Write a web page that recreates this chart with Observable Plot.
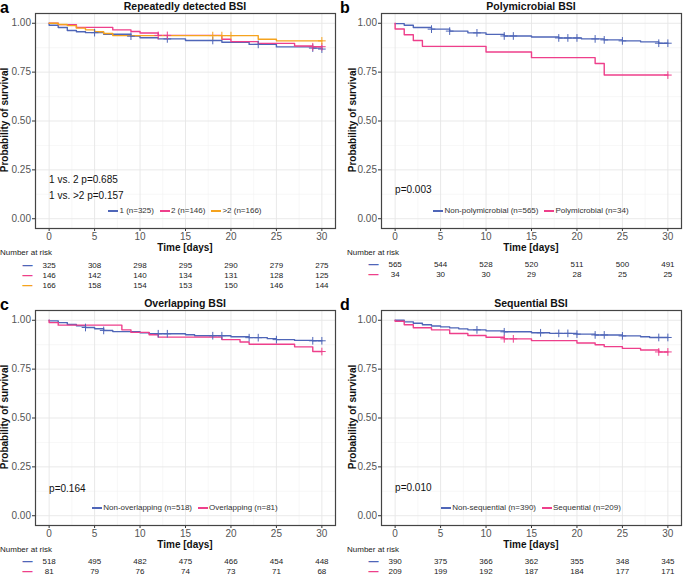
<!DOCTYPE html>
<html><head><meta charset="utf-8">
<script src="https://cdn.jsdelivr.net/npm/d3@7"></script>
<script src="https://cdn.jsdelivr.net/npm/@observablehq/plot@0.6"></script>
<style>
body{margin:0;background:#fff;font-family:"Liberation Sans",Arial,sans-serif;}
#root{position:relative;width:683px;height:576px;overflow:hidden;background:#fff;}
.abs{position:absolute;white-space:nowrap;line-height:1;}
.letter{font-weight:bold;font-size:16px;}
.title{font-weight:bold;font-size:10.5px;text-align:center;width:300px;color:#111;}
.ylab{font-weight:bold;font-size:10px;text-align:center;width:200px;transform:rotate(-90deg);color:#111;}
.xlab{font-weight:bold;font-size:10px;text-align:center;width:300px;color:#111;}
.risk{font-size:8px;color:#222;}
.legend{display:flex;justify-content:center;align-items:center;width:300px;font-size:8px;color:#333;}
.legend .sw{display:inline-block;width:10px;height:1.6px;margin-right:1px;}
.legend .it{display:flex;align-items:center;margin:0 3px;}
svg{position:absolute;}
</style></head>
<body><div id="root"></div>
<script>
// ---------- shared ----------
const ticksX = [0, 5, 10, 15, 20, 25, 30];
const ticksY = [0, 0.25, 0.5, 0.75, 1];
const minorX = [2.5, 7.5, 12.5, 17.5, 22.5, 27.5];
const minorY = [0.125, 0.375, 0.625, 0.875];
const riskTimes = [0, 5, 10, 15, 20, 25, 30];
const blue = "#4F66B8", pink = "#EE3F8B", orange = "#F5A31E";

// ---------- panel a ----------
const aNames = ["1 (n=325)", "2 (n=146)", ">2 (n=166)"];
const aT1 = [0, 0, 1, 2, 3, 4, 6, 9, 10, 12, 15, 19, 22, 25, 29, 30];
const aS1 = [1, 0.99, 0.978, 0.963, 0.957, 0.952, 0.944, 0.934, 0.926, 0.92, 0.912, 0.903, 0.892, 0.879, 0.873, 0.868];
const aC1 = [5, 9, 13, 18, 23, 29, 30];
const aT2 = [0, 1, 3, 7, 9, 10, 12, 19, 20, 23, 27, 29, 30];
const aS2 = [1, 0.993, 0.979, 0.966, 0.958, 0.95, 0.938, 0.918, 0.906, 0.897, 0.884, 0.88, 0.88];
const aC2 = [12, 13, 29, 30];
const aT3 = [0, 1, 2, 3, 4, 5, 6, 7, 23, 25, 30];
const aS3 = [1, 0.994, 0.988, 0.975, 0.966, 0.957, 0.948, 0.937, 0.918, 0.91, 0.91];
const aC3 = [18, 19, 20, 30];
const aRisk1 = [325, 308, 298, 295, 290, 279, 275];
const aRisk2 = [146, 142, 140, 134, 131, 128, 125];
const aRisk3 = [166, 158, 154, 153, 150, 146, 144];
const aP = ["1 vs. 2 p=0.685", "1 vs. >2 p=0.157"];

// ---------- panel b ----------
const bNames = ["Non-polymicrobial (n=565)", "Polymicrobial (n=34)"];
const bT1 = [0, 1, 2, 4, 6, 8, 10, 12, 15, 18, 20.5, 23, 25, 27, 29, 30];
const bS1 = [0.998, 0.99, 0.978, 0.97, 0.96, 0.951, 0.943, 0.935, 0.93, 0.925, 0.92, 0.915, 0.91, 0.905, 0.898, 0.898];
const bC1 = [4, 6, 9, 12, 13, 18, 19, 20, 22, 23, 25, 29, 30];
const bT2 = [0, 0, 1, 2, 3, 10, 15, 22, 23, 30];
const bS2 = [1, 0.971, 0.941, 0.912, 0.882, 0.853, 0.824, 0.794, 0.735, 0.735];
const bC2 = [30];
const bRisk1 = [565, 544, 528, 520, 511, 500, 491];
const bRisk2 = [34, 30, 30, 29, 28, 25, 25];
const bP = ["p=0.003"];

// ---------- panel c ----------
const cNames = ["Non-overlapping (n=518)", "Overlapping (n=81)"];
const cT1 = [0, 0, 1, 2, 3, 4, 5, 6, 7, 10, 11, 15, 16, 20, 22, 24, 25, 27, 29, 30];
const cS1 = [1, 0.997, 0.988, 0.978, 0.972, 0.963, 0.957, 0.948, 0.942, 0.936, 0.931, 0.926, 0.921, 0.916, 0.911, 0.906, 0.901, 0.897, 0.895, 0.895];
const cC1 = [4, 6, 12, 13, 18, 19, 22, 23, 25, 29, 30];
const cT2 = [0, 0, 1, 8, 9, 11, 12, 19, 21, 22, 27, 29, 30];
const cS2 = [1, 0.988, 0.975, 0.951, 0.938, 0.926, 0.914, 0.901, 0.889, 0.877, 0.864, 0.84, 0.84];
const cC2 = [30];
const cRisk1 = [518, 495, 482, 475, 466, 454, 448];
const cRisk2 = [81, 79, 76, 74, 73, 71, 68];
const cP = ["p=0.164"];

// ---------- panel d ----------
const dNames = ["Non-sequential (n=390)", "Sequential (n=209)"];
const dT1 = [0, 1, 2, 3, 4, 5, 6, 7, 8, 10, 12, 15, 17, 20, 22, 25, 27, 28, 30];
const dS1 = [1, 0.992, 0.985, 0.977, 0.971, 0.966, 0.961, 0.956, 0.951, 0.946, 0.941, 0.936, 0.933, 0.929, 0.925, 0.92, 0.916, 0.912, 0.912];
const dC1 = [9, 12, 16, 18, 19, 20, 22, 23, 25, 29, 30];
const dT2 = [0, 0, 1, 2, 4, 6, 8, 10, 12, 15, 20, 22, 23, 25, 27, 29, 30];
const dS2 = [1, 0.995, 0.977, 0.962, 0.951, 0.932, 0.922, 0.913, 0.905, 0.896, 0.884, 0.875, 0.865, 0.856, 0.848, 0.838, 0.838];
const dC2 = [12, 13, 29, 30];
const dRisk1 = [390, 375, 366, 362, 355, 348, 345];
const dRisk2 = [209, 199, 192, 187, 184, 177, 171];
const dP = ["p=0.010"];

// ---------- layout config (positions only) ----------
const panels = [
  {letter: "a", title: "Repeatedly detected BSI", left: 0, top: 0, letterLeft: 0, pDy: [-45.5, -30],
   names: aNames, colors: [blue, pink, orange],
   curves: [[aT1, aS1, aC1], [aT2, aS2, aC2], [aT3, aS3, aC3]], risk: [aRisk1, aRisk2, aRisk3], p: aP},
  {letter: "b", title: "Polymicrobial BSI", left: 346, top: 0, letterLeft: 340, pDy: [-35.5],
   names: bNames, colors: [blue, pink],
   curves: [[bT1, bS1, bC1], [bT2, bS2, bC2]], risk: [bRisk1, bRisk2], p: bP},
  {letter: "c", title: "Overlapping BSI", left: 0, top: 297, letterLeft: 0, pDy: [-34],
   names: cNames, colors: [blue, pink],
   curves: [[cT1, cS1, cC1], [cT2, cS2, cC2]], risk: [cRisk1, cRisk2], p: cP},
  {letter: "d", title: "Sequential BSI", left: 346, top: 297, letterLeft: 340, pDy: [-35],
   names: dNames, colors: [blue, pink],
   curves: [[dT1, dS1, dC1], [dT2, dS2, dC2]], risk: [dRisk1, dRisk2], p: dP},
];

const root = document.getElementById("root");
function put(html, cls, left, top) {
  const d = document.createElement("div");
  d.className = "abs " + cls;
  d.style.left = left + "px";
  d.style.top = top + "px";
  d.innerHTML = html;
  root.appendChild(d);
  return d;
}
function stepAt(ts, ss, x) {
  let v = ss[0];
  for (let i = 0; i < ts.length; i++) if (ts[i] <= x) v = ss[i];
  return v;
}
const font = "'Liberation Sans', Arial, sans-serif";

for (const P of panels) {
  const L = P.left, T = P.top;
  const lines = [], cens = [];
  P.curves.forEach(([ts, ss, cs], k) => {
    ts.forEach((t, i) => lines.push({t, s: ss[i], g: P.names[k]}));
    cs.forEach(t => cens.push({t, s: stepAt(ts, ss, t), g: P.names[k]}));
  });
  const color = {domain: P.names, range: P.colors};
  const pMarks = P.p.map((txt, i) => Plot.text([txt], {text: d => d, frameAnchor: "bottom-left",
    dx: 13.6, dy: P.pDy[i], fontSize: 10, fill: "#111"}));
  const km = Plot.plot({
    width: 337, height: 243, marginLeft: 35, marginRight: 2, marginTop: 13, marginBottom: 15,
    style: {fontFamily: font, fontSize: "10px", color: "#4d4d4d", background: "transparent", overflow: "visible"},
    x: {domain: [-1.5, 31.5]},
    y: {domain: [-0.05, 1.05]},
    color,
    marks: [
      Plot.gridX(minorX, {stroke: "#f1f1f1", strokeOpacity: 1, strokeWidth: 0.6}),
      Plot.gridY(minorY, {stroke: "#f1f1f1", strokeOpacity: 1, strokeWidth: 0.6}),
      Plot.gridX(ticksX, {stroke: "#e6e6e6", strokeOpacity: 1, strokeWidth: 0.9}),
      Plot.gridY(ticksY, {stroke: "#e6e6e6", strokeOpacity: 1, strokeWidth: 0.9}),
      Plot.line(lines, {x: "t", y: "s", z: "g", stroke: "g", curve: "step-after", strokeWidth: 1.4}),
      Plot.dot(cens, {x: "t", y: "s", stroke: "g", symbol: "plus", r: 2.6, strokeWidth: 1}),
      ...pMarks,
      Plot.axisX({ticks: ticksX, tickSize: 3, tickPadding: 1, label: null, stroke: "#333", fill: "#555"}),
      Plot.axisY({ticks: ticksY, tickFormat: d3.format(".2f"), tickSize: 3, tickPadding: 1.5, label: null, stroke: "#333", fill: "#555"}),
      Plot.frame({stroke: "#444", strokeWidth: 1.2})
    ]
  });
  km.style.left = L + "px"; km.style.top = T + "px";
  root.appendChild(km);

  // texts
  put(P.letter, "letter", P.letterLeft, T);
  put(P.title, "title", L + 35, T + 1);
  put("Probability of survival", "ylab", L + (P.left ? 7 : 5) - 100, T + 115);
  put("Time [days]", "xlab", L + 35, T + 243);
  put("Number at risk", "risk", P.letterLeft + (P.left ? 7 : 0), T + 249);

  // legend
  put(P.names.map((n, k) =>
    `<span class="it"><span class="sw" style="background:${P.colors[k]}"></span>${n}</span>`).join(""),
    "legend", L + 35, T + 207);

  // risk table
  const riskData = [];
  P.risk.forEach((arr, k) => arr.forEach((n, i) => riskData.push({t: riskTimes[i], n, g: P.names[k]})));
  const rows = P.names.length;
  const rt = Plot.plot({
    width: 337, height: 12 + (rows - 1) * 10.5, marginLeft: 35, marginRight: 2, marginTop: 6, marginBottom: 6,
    style: {fontFamily: font, fontSize: "8px", background: "transparent", overflow: "visible"},
    x: {domain: [-1.5, 31.5], axis: null},
    y: {type: "point", domain: P.names, padding: 0, axis: null},
    color,
    marks: [
      Plot.text(riskData, {x: "t", y: "g", text: d => String(d.n), fontSize: 8, fill: "#222"}),
      Plot.text(P.names, {y: d => d, frameAnchor: "left", dx: -8, text: () => "\u2014", textAnchor: "middle",
        fill: d => d, fontSize: 10, fontWeight: "bold"})
    ]
  });
  rt.style.left = L + "px"; rt.style.top = (T + 258) + "px";
  root.appendChild(rt);
}
</script></body></html>
